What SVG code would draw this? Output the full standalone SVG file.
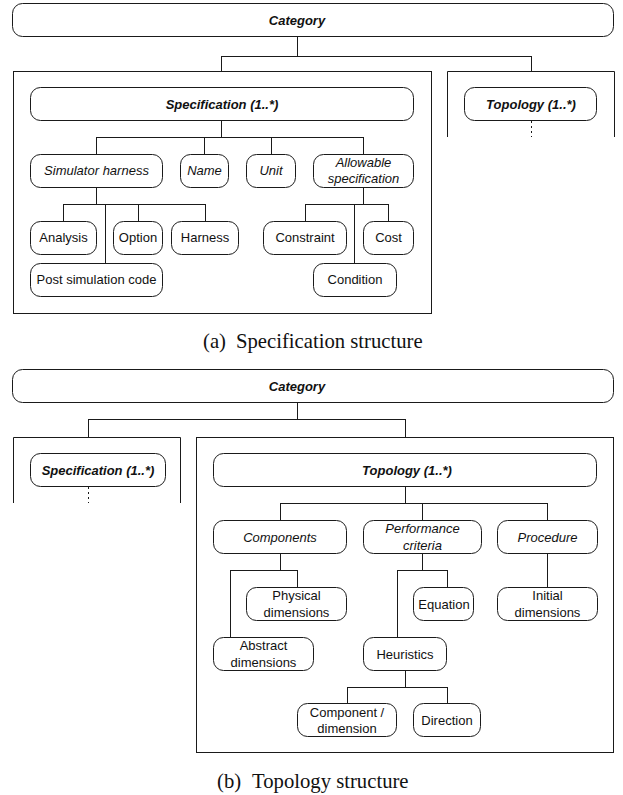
<svg xmlns="http://www.w3.org/2000/svg" width="623" height="795" viewBox="0 0 623 795">
  <style>
    .node rect { fill: #fff; stroke: #1a1a1a; stroke-width: 1; }
    .frame { fill: none; stroke: #1a1a1a; stroke-width: 1; }
    .wire { fill: none; stroke: #1a1a1a; stroke-width: 1; }
    .dots { fill: none; stroke: #1a1a1a; stroke-width: 1; stroke-dasharray: 2 3; }
    text { font-family: "Liberation Sans", Arial, Helvetica, sans-serif; font-size: 13px; fill: #111; text-anchor: middle; }
    .bi { font-weight: bold; font-style: italic; }
    .it { font-style: italic; }
    .cap { font-family: "Liberation Serif", "Times New Roman", serif; font-size: 20.7px; text-anchor: start; fill: #111; }
  </style>
  <rect width="623" height="795" fill="#fff"/>

  <!-- ===== (a) Specification structure ===== -->
  <g id="a-frames">
    <rect class="frame" x="13.5" y="71.5" width="418" height="242"/>
    <path class="frame" d="M447.5,137 V71.5 H614.5 V137"/>
  </g>

  <g id="a-connectors">
    <path class="wire" d="M297.5,37 V56.5 M221.5,56.5 H531.5 M221.5,56 V71 M531.5,56 V71"/>
    <path class="dots" d="M531.5,121 V137"/>
    <path class="wire" d="M221.5,121 V137.5 M96.5,137.5 H363.5 M96.5,137 V154 M204.5,137 V154 M271.5,137 V154 M363.5,137 V154"/>
    <path class="wire" d="M96.5,187 V204.5 M63.5,204.5 H205.5 M63.5,204 V221 M105.5,204 V263 M138.5,204 V221 M205.5,204 V221"/>
    <path class="wire" d="M363.5,187 V204.5 M305.5,204.5 H388.5 M305.5,204 V221 M354.5,204 V263 M388.5,204 V221"/>
  </g>

  <g id="a-category" class="node">
    <rect x="12.5" y="3.5" width="601" height="33" rx="10"/>
    <text class="bi" x="297" y="24.5">Category</text>
  </g>
  <g id="a-topology" class="node">
    <rect x="464.5" y="87.5" width="132" height="33" rx="10"/>
    <text class="bi" x="531" y="108.5">Topology (1..*)</text>
  </g>
  <g id="a-specification" class="node">
    <rect x="30.5" y="87.5" width="383" height="33" rx="10"/>
    <text class="bi" x="222" y="108.5">Specification (1..*)</text>
  </g>
  <g id="a-simulator-harness" class="node">
    <rect x="30.5" y="154.5" width="132" height="33" rx="10"/>
    <text class="it" x="96.5" y="175">Simulator harness</text>
  </g>
  <g id="a-name" class="node">
    <rect x="180.5" y="154.5" width="48" height="33" rx="10"/>
    <text class="it" x="204.5" y="175">Name</text>
  </g>
  <g id="a-unit" class="node">
    <rect x="246.5" y="154.5" width="49" height="33" rx="10"/>
    <text class="it" x="271" y="175">Unit</text>
  </g>
  <g id="a-allowable" class="node">
    <rect x="313.5" y="154.5" width="100" height="33" rx="10"/>
    <text class="it" x="363.5" y="167">Allowable</text>
    <text class="it" x="363.5" y="183">specification</text>
  </g>
  <g id="a-analysis" class="node">
    <rect x="30.5" y="221.5" width="66" height="33" rx="10"/>
    <text x="63.5" y="242">Analysis</text>
  </g>
  <g id="a-option" class="node">
    <rect x="113.5" y="221.5" width="49" height="33" rx="10"/>
    <text x="138" y="242">Option</text>
  </g>
  <g id="a-harness" class="node">
    <rect x="171.5" y="221.5" width="67" height="33" rx="10"/>
    <text x="205" y="242">Harness</text>
  </g>
  <g id="a-post-simulation" class="node">
    <rect x="30.5" y="263.5" width="132" height="33" rx="10"/>
    <text x="96.5" y="284">Post simulation code</text>
  </g>
  <g id="a-constraint" class="node">
    <rect x="263.5" y="221.5" width="83" height="33" rx="10"/>
    <text x="305" y="242">Constraint</text>
  </g>
  <g id="a-cost" class="node">
    <rect x="363.5" y="221.5" width="50" height="33" rx="10"/>
    <text x="388.5" y="242">Cost</text>
  </g>
  <g id="a-condition" class="node">
    <rect x="313.5" y="263.5" width="83" height="33" rx="10"/>
    <text x="355" y="284">Condition</text>
  </g>

  <text class="cap" x="203" y="348">(a)</text>
  <text class="cap" x="236" y="348">Specification structure</text>

  <!-- ===== (b) Topology structure ===== -->
  <g id="b-frames">
    <path class="frame" d="M13.5,503 V437.5 H180.5 V503"/>
    <rect class="frame" x="196.5" y="437.5" width="417" height="315"/>
  </g>

  <g id="b-connectors">
    <path class="wire" d="M297.5,403 V419.5 M88.5,419.5 H405.5 M88.5,419 V437 M405.5,419 V437"/>
    <path class="dots" d="M88.5,487 V503"/>
    <path class="wire" d="M405.5,487 V503.5 M280.5,503.5 H547.5 M280.5,503 V520 M422.5,503 V520 M547.5,503 V520"/>
    <path class="wire" d="M280.5,553 V570.5 M230.5,570.5 H297.5 M230.5,570 V637 M297.5,570 V587"/>
    <path class="wire" d="M422.5,553 V570.5 M397.5,570.5 H447.5 M397.5,570 V637 M447.5,570 V587"/>
    <path class="wire" d="M547.5,553 V587"/>
    <path class="wire" d="M405.5,670 V687.5 M347.5,687.5 H447.5 M347.5,687 V703 M447.5,687 V703"/>
  </g>

  <g id="b-category" class="node">
    <rect x="12.5" y="369.5" width="601" height="33" rx="10"/>
    <text class="bi" x="297" y="390.5">Category</text>
  </g>
  <g id="b-specification" class="node">
    <rect x="30.5" y="453.5" width="135" height="33" rx="10"/>
    <text class="bi" x="98" y="474.5">Specification (1..*)</text>
  </g>
  <g id="b-topology" class="node">
    <rect x="213.5" y="453.5" width="383" height="33" rx="10"/>
    <text class="bi" x="407" y="474.5">Topology (1..*)</text>
  </g>
  <g id="b-components" class="node">
    <rect x="213.5" y="520.5" width="133" height="33" rx="10"/>
    <text class="it" x="280" y="541.5">Components</text>
  </g>
  <g id="b-performance" class="node">
    <rect x="363.5" y="520.5" width="118" height="33" rx="10"/>
    <text class="it" x="422.5" y="533">Performance</text>
    <text class="it" x="422.5" y="549.5">criteria</text>
  </g>
  <g id="b-procedure" class="node">
    <rect x="497.5" y="520.5" width="100" height="33" rx="10"/>
    <text class="it" x="547.5" y="541.5">Procedure</text>
  </g>
  <g id="b-physical" class="node">
    <rect x="246.5" y="587.5" width="100" height="33" rx="10"/>
    <text x="296.5" y="600">Physical</text>
    <text x="296.5" y="616.5">dimensions</text>
  </g>
  <g id="b-equation" class="node">
    <rect x="413.5" y="587.5" width="60" height="33" rx="10"/>
    <text x="444" y="608.5">Equation</text>
  </g>
  <g id="b-initial" class="node">
    <rect x="497.5" y="587.5" width="100" height="33" rx="10"/>
    <text x="547.5" y="600">Initial</text>
    <text x="547.5" y="616.5">dimensions</text>
  </g>
  <g id="b-abstract" class="node">
    <rect x="213.5" y="637.5" width="100" height="33" rx="10"/>
    <text x="263.5" y="650">Abstract</text>
    <text x="263.5" y="666.5">dimensions</text>
  </g>
  <g id="b-heuristics" class="node">
    <rect x="363.5" y="637.5" width="83" height="33" rx="10"/>
    <text x="405" y="658.5">Heuristics</text>
  </g>
  <g id="b-component-dimension" class="node">
    <rect x="297.5" y="703.5" width="99" height="33" rx="10"/>
    <text x="347" y="716.5">Component /</text>
    <text x="347" y="733">dimension</text>
  </g>
  <g id="b-direction" class="node">
    <rect x="413.5" y="703.5" width="67" height="33" rx="10"/>
    <text x="447" y="724.5">Direction</text>
  </g>

  <text class="cap" x="217" y="788">(b)</text>
  <text class="cap" x="252" y="788">Topology structure</text>
</svg>
